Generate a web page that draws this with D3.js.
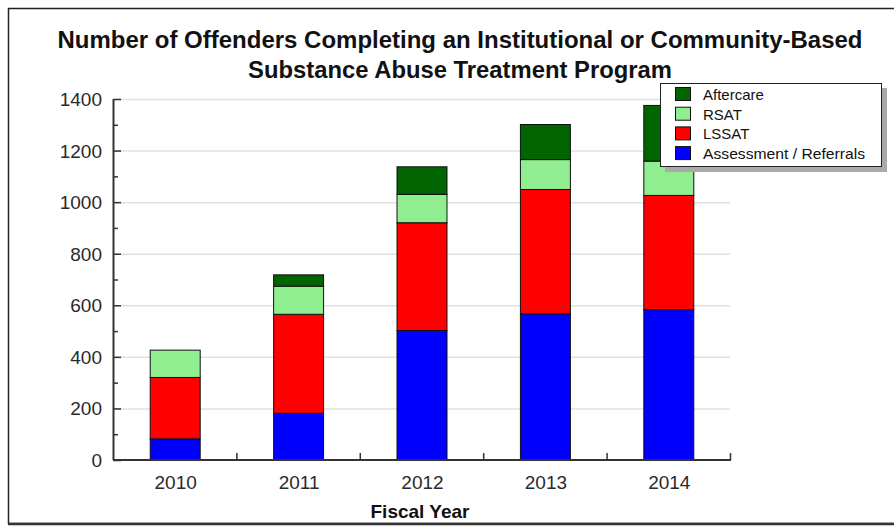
<!DOCTYPE html>
<html>
<head>
<meta charset="utf-8">
<script src="https://cdn.jsdelivr.net/npm/d3@7"></script>
<style>
  html, body { margin: 0; padding: 0; background: #fff; }
  svg { display: block; }
  text { font-family: "Liberation Sans", Arial, sans-serif; }
</style>
</head>
<body>
<script>
// ---- data ----
const years = ["2010", "2011", "2012", "2013", "2014"];
const assessment = [84, 183, 504, 569, 585];
const lssat = [238, 384, 418, 482, 443];
const rsat = [106, 109, 110, 116, 133];
const aftercare = [0, 44, 107, 136, 216];
const seriesNames = ["Assessment / Referrals", "LSSAT", "RSAT", "Aftercare"];
const seriesColors = ["#0000ff", "#ff0000", "#90ee90", "#006400"];
const yTicks = [0, 200, 400, 600, 800, 1000, 1200, 1400];
const titleLines = ["Number of Offenders Completing an Institutional or Community-Based",
                    "Substance Abuse Treatment Program"];
const xTitle = "Fiscal Year";

(function () {
const W = 894, H = 527;
const svg = d3.select("body").append("svg").attr("width", W).attr("height", H);

// outer frame
svg.append("rect").attr("x", 8.5).attr("y", 8.5).attr("width", 900).attr("height", 515)
  .attr("fill", "#fff").attr("stroke", "#222").attr("stroke-width", 1.5);
svg.append("line").attr("x1", 8).attr("x2", W).attr("y1", 524).attr("y2", 524)
  .attr("stroke", "#333").attr("stroke-width", 2.5);

const pL = 113, pR = 730, pT = 99, pB = 460;

const x = d3.scaleBand().domain(years).range([pL, pR])
  .paddingInner(0.595).paddingOuter(0.2975);
const y = d3.scaleLinear().domain([0, 1400]).range([pB, pT]);

// gridlines
svg.append("g").selectAll("line").data(yTicks.filter(d => d > 0)).join("line")
  .attr("x1", pL).attr("x2", pR)
  .attr("y1", d => y(d) + 0.5).attr("y2", d => y(d) + 0.5)
  .attr("stroke", "#e0e0e0").attr("stroke-width", 1.5);

// stacked data
const rows = years.map((yr, i) => ({
  year: yr,
  "Assessment / Referrals": assessment[i],
  "LSSAT": lssat[i],
  "RSAT": rsat[i],
  "Aftercare": aftercare[i]
}));
const stack = d3.stack().keys(seriesNames)(rows);

const g = svg.append("g");
stack.forEach((layer, li) => {
  g.append("g").selectAll("rect").data(layer.filter(d => d[1] - d[0] > 0)).join("rect")
    .attr("x", d => x(d.data.year) + 0.5)
    .attr("y", d => y(d[1]) + 0.5)
    .attr("width", x.bandwidth())
    .attr("height", d => y(d[0]) - y(d[1]))
    .attr("fill", seriesColors[li])
    .attr("stroke", "#111").attr("stroke-width", 1);
});

// y axis
const yAxis = d3.axisRight(y).tickValues(d3.range(0, 1401, 100)).tickSize(7).tickFormat("");
const ya = svg.append("g").attr("transform", `translate(${pL},0)`).call(yAxis);
ya.select(".domain").attr("stroke", "#333").attr("stroke-width", 2).attr("d", `M0.5,${pT}V${pB}`);
ya.selectAll(".tick line").attr("stroke", "#333").attr("stroke-width", 1.5)
  .attr("x2", d => d % 200 === 0 ? 8 : 5);
svg.append("g").selectAll("text").data(yTicks).join("text")
  .attr("x", 102).attr("y", d => y(d) + 7)
  .attr("text-anchor", "end").attr("font-size", 19).attr("fill", "#2a2a2a")
  .text(d => d);

// x axis
svg.append("line").attr("x1", pL).attr("x2", pR + 1).attr("y1", pB).attr("y2", pB)
  .attr("stroke", "#333").attr("stroke-width", 2);
const bounds = years.map(yr => x(yr) - x.step() * x.paddingOuter()).concat([pR]).slice(1);
svg.append("g").selectAll("line").data(bounds).join("line")
  .attr("x1", d => d + 0.5).attr("x2", d => d + 0.5).attr("y1", pB).attr("y2", pB - 7)
  .attr("stroke", "#333").attr("stroke-width", 1.5);
svg.append("g").selectAll("text").data(years).join("text")
  .attr("x", d => x(d) + x.bandwidth() / 2 + 1).attr("y", 489)
  .attr("text-anchor", "middle").attr("font-size", 19).attr("fill", "#2a2a2a")
  .text(d => d);
svg.append("text").attr("x", 420).attr("y", 518).attr("text-anchor", "middle")
  .attr("font-size", 19).attr("font-weight", "bold").attr("fill", "#111").text(xTitle);

// title
svg.append("text").attr("x", 460).attr("y", 48).attr("text-anchor", "middle")
  .attr("font-size", 23).attr("font-weight", "bold").attr("fill", "#111")
  .attr("textLength", 805).attr("lengthAdjust", "spacingAndGlyphs").text(titleLines[0]);
svg.append("text").attr("x", 460).attr("y", 78).attr("text-anchor", "middle")
  .attr("font-size", 23).attr("font-weight", "bold").attr("fill", "#111")
  .attr("textLength", 424).attr("lengthAdjust", "spacingAndGlyphs").text(titleLines[1]);

// legend
const lg = svg.append("g");
lg.append("rect").attr("x", 665).attr("y", 88).attr("width", 222).attr("height", 84).attr("fill", "#aaa");
lg.append("rect").attr("x", 660.5).attr("y", 83.5).attr("width", 221).attr("height", 83)
  .attr("fill", "#fff").attr("stroke", "#222").attr("stroke-width", 1);
const legendOrder = [3, 2, 1, 0];
legendOrder.forEach((si, k) => {
  const yy = 87 + k * 19.7;
  lg.append("rect").attr("x", 675.5).attr("y", yy + 0.5).attr("width", 15).attr("height", 13)
    .attr("fill", seriesColors[si]).attr("stroke", "#111");
  lg.append("text").attr("x", 703).attr("y", yy + 13).attr("font-size", 15).attr("fill", "#111")
    .attr("textLength", si === 0 ? 162 : null).attr("lengthAdjust", "spacingAndGlyphs")
    .text(seriesNames[si]);
});
})();
</script>
</body>
</html>
